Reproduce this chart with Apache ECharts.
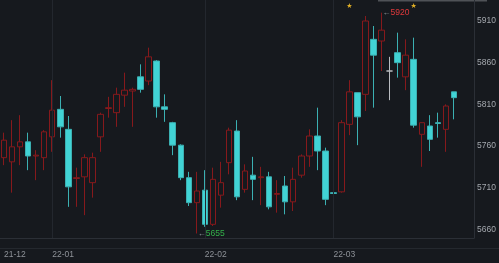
<!DOCTYPE html>
<html>
<head>
<meta charset="utf-8">
<script src="https://cdn.jsdelivr.net/npm/echarts@6/dist/echarts.min.js"></script>
<style>
html,body{margin:0;padding:0;background:#16191e;}
#c{width:499px;height:263px;}
</style>
</head>
<body>
<div id="c"></div>
<script>
// Candle values (open, close, low, high)
const open  = [5746,5741,5759,5765,5748,5746,5771,5804,5780,5721,5723,5716,5771,5805,5800,5821,5826,5843,5838,5862,5807,5788,5761,5722,5692,5707,5666,5701,5740,5778,5708,5725,5722,5723,5702,5712,5693,5725,5748,5772,5754,5704,5705,5786,5824,5822,5888,5886,5850,5872,5843,5864,5774,5784,5788,5780,5825];
const close = [5767,5759,5765,5748,5749,5777,5803,5783,5711,5722,5746,5746,5798,5806,5822,5827,5828,5828,5867,5807,5804,5761,5722,5692,5706,5666,5720,5716,5779,5699,5730,5720,5723,5687,5703,5693,5720,5748,5772,5754,5696,5703,5788,5825,5795,5910,5869,5899,5850,5860,5869,5785,5788,5768,5787,5808,5818];
const low   = [5737,5704,5737,5731,5719,5731,5753,5770,5687,5687,5677,5698,5753,5794,5783,5807,5783,5824,5833,5794,5789,5749,5719,5688,5655,5663,5664,5686,5726,5695,5704,5695,5689,5684,5680,5678,5682,5722,5735,5731,5689,5681,5704,5773,5761,5802,5806,5850,5815,5842,5827,5782,5735,5754,5770,5753,5792];
const high  = [5776,5791,5797,5776,5755,5779,5839,5820,5796,5734,5750,5752,5800,5819,5830,5848,5830,5858,5878,5863,5822,5789,5762,5729,5729,5731,5734,5741,5782,5791,5738,5747,5735,5729,5719,5724,5734,5750,5780,5806,5758,5707,5791,5839,5824,5916,5904,5920,5867,5896,5888,5890,5788,5797,5800,5810,5825];
const padCount = 2;               // empty slots on the right
const neutralIndex = [48];        // grey (unchanged) candle
const tickIndex = [0, 6, 25, 41];
const tickText  = ['21-12', '22-01', '22-02', '22-03'];
const yTicks = [5660, 5710, 5760, 5810, 5860, 5910];
const starIndex = [43, 51];
const maxMark = {index: 47, value: 5920};
const minMark = {index: 24, value: 5655};

const n = open.length + padCount;
const categories = [];
for (let i = 0; i < n; i++) categories.push(String(i));

const data = open.map((o, i) => {
  const v = [o, close[i], low[i], high[i]];
  if (neutralIndex.includes(i)) {
    return {value: v, itemStyle: {color: '#b9bcc0', color0: '#b9bcc0', borderColor: '#b9bcc0', borderColor0: '#b9bcc0'}};
  }
  return v;
});

const chart = echarts.init(document.getElementById('c'), null, {renderer: 'canvas'});
const font = 'Liberation Sans, Arial, sans-serif';
chart.setOption({
  backgroundColor: '#16191e',
  animation: false,
  grid: {left: -2, right: 25, top: 0, bottom: 25, containLabel: false},
  xAxis: {
    type: 'category',
    data: categories,
    boundaryGap: true,
    axisLine: {show: true, lineStyle: {color: '#2b2f36', width: 1}},
    axisTick: {show: false},
    splitLine: {show: false},
    axisLabel: {
      interval: (idx) => tickIndex.includes(idx),
      formatter: (val, idx) => { const k = tickIndex.indexOf(Number(val)); return k >= 0 ? tickText[k] : ''; },
      align: 'left',
      margin: 12,
      color: '#8e9298',
      fontSize: 8.5,
      fontFamily: font
    }
  },
  yAxis: {
    type: 'value',
    position: 'right',
    min: 5649.6,
    max: 5935.2,
    scale: true,
    axisLine: {show: true, lineStyle: {color: '#2b2f36', width: 1}},
    axisTick: {show: false},
    splitLine: {show: false},
    axisLabel: {
      customValues: yTicks,
      formatter: (v) => String(Math.round(v)),
      margin: 3,
      color: '#a3a7ad',
      fontSize: 8.5,
      fontFamily: font
    }
  },
  series: [{
    type: 'candlestick',
    data: data,
    barWidth: 6,
    clip: true,
    itemStyle: {
      color: 'transparent',
      color0: '#41d3d5',
      borderColor: '#86191c',
      borderColor0: '#3bb0b2',
      borderWidth: 1
    },
    markLine: {
      silent: true,
      symbol: ['none', 'none'],
      label: {show: false},
      lineStyle: {color: '#23272e', width: 1, type: 'solid'},
      data: tickIndex.slice(1).map(i => ({xAxis: i}))
    },
    markPoint: {
      silent: true,
      symbol: 'circle',
      symbolSize: 0,
      data: [
        ...starIndex.map(i => ({coord: [i, 5928], label: {show: true, position: 'inside', formatter: '★', color: '#e3b126', fontSize: 7, fontFamily: 'DejaVu Sans'}})),
        {coord: [maxMark.index, maxMark.value], label: {show: true, position: 'right', distance: 1, formatter: '{a|←}{b|' + maxMark.value + '}',
          rich: {a: {color: '#9aa0a6', fontSize: 8, fontFamily: font}, b: {color: '#e0393b', fontSize: 8.5, fontFamily: font}}}},
        {coord: [minMark.index, minMark.value], label: {show: true, position: 'right', distance: 1, formatter: '{a|←}{b|' + minMark.value + '}',
          rich: {a: {color: '#9aa0a6', fontSize: 8, fontFamily: font}, b: {color: '#33b04a', fontSize: 8.5, fontFamily: font}}}}
      ]
    }
  }],
  graphic: [
    {type: 'rect', shape: {x: 378, y: 0, width: 109, height: 1.5}, style: {fill: '#4f5257'}, silent: true},
    {type: 'line', shape: {x1: 0, y1: 248.5, x2: 499, y2: 248.5}, style: {stroke: '#24282e', lineWidth: 1}, silent: true}
  ]
});
</script>
</body>
</html>
